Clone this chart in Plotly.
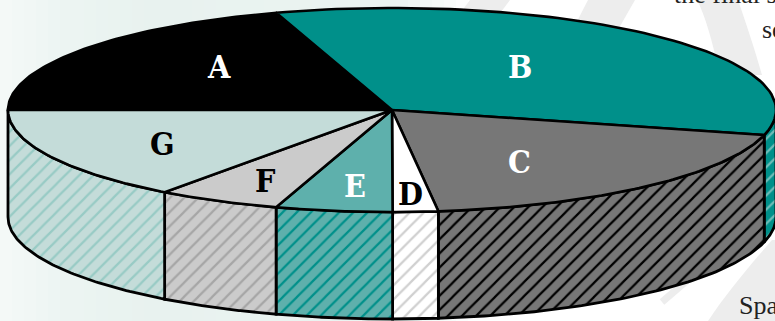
import numpy as np
import plotly.graph_objects as go

# ---- data (share of the pie, per cent) ----
categories = ["A", "B", "C", "D", "E", "F", "G"]
values = [20.1, 33.8, 19.1, 1.9, 4.9, 5.2, 14.9]

# ---- styles ----
top_colors = ["#000000", "#00908A", "#777777", "#FFFFFF", "#5EB0AC", "#CBCBCB", "#C4DCD9"]
hatch_colors = ["#000000", "#6FBDB8", "#000000", "#D0D0D0", "#00908A", "#A6A6A6", "#98CBC5"]
label_colors = ["#FFFFFF", "#FFFFFF", "#FFFFFF", "#000000", "#FFFFFF", "#000000", "#000000"]
label_xy = [(219, 67), (520, 67), (519, 162), (410, 194), (355, 186), (265, 181), (162, 144)]

W, H = 775, 321
CX, CY, RX, RY, DEPTH = 392, 110, 384, 102, 107
START_DEG = 180.0  # A starts on the left and slices run clockwise


def rim(a0, a1, n=80):
    t = np.radians(np.linspace(a0, a1, n))
    return CX + RX * np.cos(t), CY - RY * np.sin(t)


fig = go.Figure()

# ---- pale background wash and swooshes ----
shapes = []
stops_x = [0, 60, 150, 400, 475, 476]
stops_v = [0.45, 0.8, 1.0, 0.85, 0.0, 0.0]
c0 = np.array([255, 255, 255])
c1 = np.array([232, 242, 239])
for x0 in np.arange(0, 480, 12):
    v = np.interp(x0 + 6, stops_x, stops_v)
    c = (c0 + (c1 - c0) * v).round().astype(int)
    shapes.append(dict(type="rect", layer="below", x0=x0, x1=x0 + 12, y0=0, y1=H,
                       fillcolor=f"rgb({c[0]},{c[1]},{c[2]})", line_width=0))
BAND = "#EDEDED"
for path in [
    "M 470 0 L 510 0 L 480 40 L 440 40 Z",
    "M 588 0 L 635 0 L 615 35 L 570 35 Z",
    "M 697 0 L 738 0 C 745 20 755 50 762 75 L 720 75 C 712 40 705 15 697 0 Z",
    "M 708 321 C 725 295 750 265 772 240 L 775 240 L 775 321 Z",
]:
    shapes.append(dict(type="path", layer="below", path=path, fillcolor=BAND, line_width=0))
shapes.append(dict(type="line", layer="below", x0=662, y0=302, x1=690, y1=278,
                   line=dict(color=BAND, width=7)))

# ---- slices from the values ----
sweeps = np.array(values) / sum(values) * 360.0
ends = START_DEG - np.cumsum(sweeps)
starts = ends + sweeps

# wall: only the part of each slice on the lower half of the rim (angles -180 .. 0) shows
for i, cat in enumerate(categories):
    b1 = min(starts[i], 0.0)
    b0 = max(ends[i], -180.0)
    if b0 >= b1:
        continue
    xs, ys = rim(b1, b0)
    px = np.concatenate([xs, xs[::-1], xs[:1]])
    py = np.concatenate([ys, ys[::-1] + DEPTH, ys[:1]])
    fig.add_trace(go.Scatter(
        x=px, y=py, mode="lines", fill="toself", showlegend=False, hoverinfo="skip",
        line=dict(color="black", width=2.8),
        fillcolor=top_colors[i],
        fillpattern=dict(shape="/", bgcolor=top_colors[i], fgcolor=hatch_colors[i],
                         size=10, solidity=0.22, fgopacity=1),
    ))

# top face
for i, cat in enumerate(categories):
    xs, ys = rim(starts[i], ends[i])
    fig.add_trace(go.Scatter(
        x=np.r_[CX, xs, CX], y=np.r_[CY, ys, CY], mode="lines", fill="toself",
        fillcolor=top_colors[i], showlegend=False, hoverinfo="skip",
        line=dict(color="black", width=2.6),
    ))

annotations = []
for cat, col, (lx, ly) in zip(categories, label_colors, label_xy):
    annotations.append(dict(x=lx, y=ly, text=f"<b>{cat}</b>", showarrow=False,
                            xanchor="center", yanchor="middle",
                            font=dict(family="DejaVu Serif Condensed, DejaVu Serif", size=32, color=col)))

# cropped page text around the chart
for txt, tx, ty, shift in [("the final s", 672, 11, 0), ("se", 760, 46, 0), ("Spa", 737, 315, -7)]:
    annotations.append(dict(x=tx, y=ty, yshift=shift, text=txt, showarrow=False,
                            xanchor="left", yanchor="bottom",
                            font=dict(family="Liberation Serif", size=26, color="#222222")))

fig.update_layout(
    width=W, height=H, margin=dict(l=0, r=0, t=0, b=0), paper_bgcolor="white", plot_bgcolor="white",
    showlegend=False, shapes=shapes, annotations=annotations,
    xaxis=dict(range=[0, W], visible=False, fixedrange=True),
    yaxis=dict(range=[H, 0], visible=False, fixedrange=True),
)
fig.write_html("out.html", config={"displayModeBar": False},
               post_script="document.body.style.margin='0';document.documentElement.style.overflow='hidden';")
